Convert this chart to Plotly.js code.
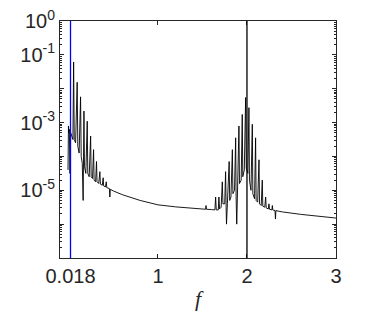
<!DOCTYPE html>
<html>
<head>
<meta charset="utf-8">
<script src="https://cdn.plot.ly/plotly-3.0.1.min.js"></script>
<style>html,body{margin:0;padding:0;background:#fff;}#chart{width:374px;height:314px;}</style>
</head>
<body>
<div id="chart"></div>
<script>
// Spectrum: frequency f and log10 of the amplitude
const freq = [
  -0.01, -0.005, 0.0, 0.005, 0.012, 0.02, 0.03, 0.045, 0.053, 0.06,
  0.075, 0.093, 0.1, 0.115, 0.131, 0.138, 0.15, 0.16, 0.169, 0.175,
  0.19, 0.206, 0.212, 0.228, 0.244, 0.25, 0.265, 0.277, 0.283, 0.3,
  0.31, 0.316, 0.335, 0.348, 0.354, 0.375, 0.385, 0.39, 0.41, 0.42,
  0.425, 0.455, 0.46, 0.465, 0.5, 0.6, 0.8, 1.0, 1.2, 1.4,
  1.5, 1.535, 1.54, 1.545, 1.6, 1.64, 1.648, 1.655, 1.678, 1.685,
  1.692, 1.71, 1.723, 1.73, 1.75, 1.76, 1.766, 1.77, 1.78, 1.8,
  1.806, 1.82, 1.836, 1.842, 1.86, 1.873, 1.878, 1.885, 1.895, 1.91,
  1.916, 1.935, 1.947, 1.953, 1.97, 1.985, 1.992, 2.01, 2.022, 2.028,
  2.045, 2.06, 2.066, 2.085, 2.097, 2.103, 2.12, 2.135, 2.141, 2.16,
  2.172, 2.178, 2.2, 2.21, 2.216, 2.24, 2.247, 2.253, 2.28, 2.285,
  2.29, 2.315, 2.32, 2.325, 2.36, 2.4, 2.6, 2.8, 3.0
];
const log10Amp = [
  -4.4, -3.1, -3.3, -3.2, -4.5, -3.3, -3.4, -3.5, -1.21, -3.5,
  -3.6, -1.81, -3.7, -3.9, -2.24, -4.0, -4.2, -5.3, -2.66, -4.3,
  -4.5, -2.96, -4.5, -4.6, -3.4, -4.6, -4.65, -3.8, -4.7, -4.75,
  -4.15, -4.75, -4.8, -4.45, -4.82, -4.85, -4.63, -4.87, -4.9, -4.75,
  -4.92, -4.95, -5.2, -4.97, -5.02, -5.13, -5.3, -5.43, -5.49, -5.53,
  -5.55, -5.56, -5.45, -5.56, -5.57, -5.58, -5.2, -5.58, -5.58, -5.2,
  -5.55, -5.5, -4.75, -5.4, -5.4, -4.45, -5.5, -6.0, -5.4, -4.15,
  -5.3, -5.2, -3.8, -5.1, -5.0, -3.45, -5.2, -6.0, -4.9, -3.1,
  -4.8, -4.7, -2.76, -4.6, -4.4, -2.26, -4.35, -4.5, -2.56, -4.7,
  -5.0, -3.05, -5.1, -5.25, -3.45, -5.3, -5.35, -4.1, -5.4, -5.45,
  -4.7, -5.47, -5.5, -5.2, -5.52, -5.55, -5.4, -5.56, -5.58, -5.45,
  -5.58, -5.6, -5.85, -5.6, -5.62, -5.64, -5.71, -5.77, -5.82
];
// Marker lines
const markerF = [0.018, 2];
const markerColors = ['#0000ff', '#000000'];
// Axis ticks
const xTickVals = [0.018, 1, 2, 3];
const xTickText = ['0.018', '1', '2', '3'];
const yTickVals = [1, 1e-1, 1e-3, 1e-5];
const yTickText = ['10<sup>0</sup>', '10<sup>-1</sup>', '10<sup>-3</sup>', '10<sup>-5</sup>'];
const yDecadeTicks = [1, 1e-1, 1e-2, 1e-3, 1e-4, 1e-5, 1e-6, 1e-7];

const amp = log10Amp.map(v => Math.pow(10, v));

const traces = [{
  x: freq, y: amp, type: 'scatter', mode: 'lines',
  line: {color: '#000000', width: 0.9}, hoverinfo: 'skip'
}];

const shapes = markerF.map((f, i) => ({
  type: 'line', xref: 'x', yref: 'paper', x0: f, x1: f, y0: 0, y1: 1,
  line: {color: markerColors[i], width: 1.3}, layer: 'above'
}));

const axColor = '#262626';
const layout = {
  width: 374, height: 314,
  margin: {l: 60, r: 38, t: 21, b: 56},
  paper_bgcolor: '#ffffff', plot_bgcolor: '#ffffff',
  showlegend: false,
  font: {family: 'Liberation Sans, Arial, sans-serif', size: 20, color: axColor},
  xaxis: {
    range: [-0.1, 3], tickmode: 'array', tickvals: xTickVals, ticktext: xTickText,
    ticks: 'inside', ticklen: 4, tickcolor: axColor, mirror: 'ticks',
    showline: true, linecolor: axColor, linewidth: 1, showgrid: false, zeroline: false,
    tickfont: {size: 20},
    title: {text: '<i>f</i>', font: {family: 'Liberation Serif, Times New Roman, serif', size: 22, color: axColor}, standoff: 4}
  },
  yaxis: {
    type: 'log', range: [-7, 0], tickmode: 'array', tickvals: yTickVals, ticktext: yTickText,
    ticks: 'inside', ticklen: 4, tickcolor: axColor, mirror: 'ticks',
    showline: true, linecolor: axColor, linewidth: 1, showgrid: false, zeroline: false,
    tickfont: {size: 20}
  },
  yaxis2: {
    type: 'log', range: [-7, 0], overlaying: 'y', side: 'left', tickmode: 'array', tickvals: yDecadeTicks,
    showticklabels: false, ticks: 'inside', ticklen: 4, tickcolor: axColor, mirror: 'ticks',
    showline: false, showgrid: false, zeroline: false,
    minor: {ticks: 'inside', ticklen: 2, tickcolor: axColor, dtick: 'D1', showgrid: false}
  },
  shapes: shapes
};

traces.push({x: [], y: [], yaxis: 'y2', type: 'scatter', mode: 'lines', hoverinfo: 'skip'});

Plotly.newPlot('chart', traces, layout, {displayModeBar: false, staticPlot: true});
</script>
</body>
</html>
